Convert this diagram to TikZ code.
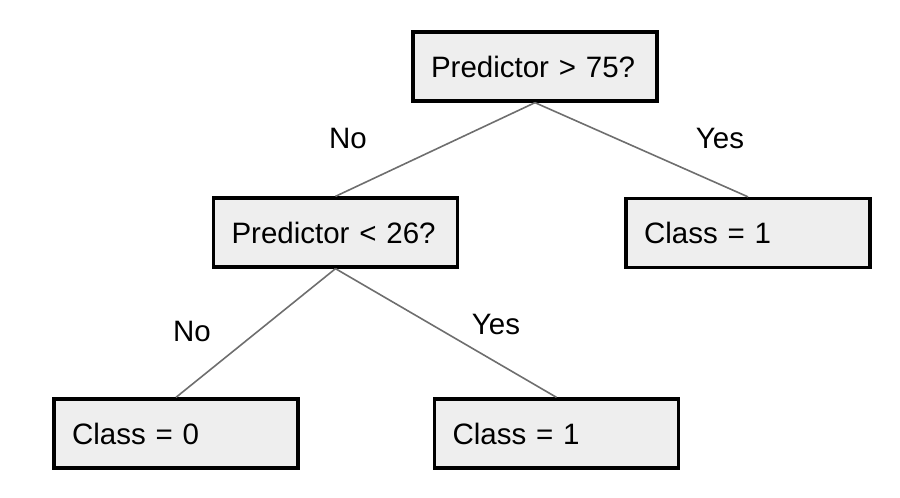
\documentclass[tikz,border=0pt]{standalone}
\usepackage{fontspec}
\setmainfont{Liberation Sans}
\definecolor{boxfill}{RGB}{238,238,238}
\definecolor{edgegray}{RGB}{110,110,110}
\tikzset{
  treebox/.style={draw=black, line width=3.3pt, fill=boxfill, rectangle,
    minimum width=244pt, minimum height=69pt, text width=208pt, align=left,
    inner xsep=18pt, inner ysep=0pt, font=\fontsize{29.5}{34}\selectfont},
  edge/.style={draw=edgegray, line width=1.6pt},
  lbl/.style={font=\fontsize{29.5}{34}\selectfont, inner sep=0pt}
}
\begin{document}
\begin{tikzpicture}[x=1pt,y=-1pt]
\useasboundingbox (0,0) rectangle (900,498);
\node[treebox] (q1) at (535,66.5) {Predictor > 75?};
\node[treebox] (q2) at (335.5,232.5) {Predictor < 26?};
\node[treebox] (cr) at (748,233) {Class = 1};
\node[treebox] (c0) at (176,433.5) {Class = 0};
\node[treebox] (cb) at (556.5,433.5) {Class = 1};
\draw[edge] (q1.south) -- (q2.north);
\draw[edge] (q1.south) -- (cr.north);
\draw[edge] (q2.south) -- (c0.north);
\draw[edge] (q2.south) -- (cb.north);
\node[lbl] (n1) at (348,138) {No};
\node[lbl] (y1) at (720,138) {Yes};
\node[lbl] (n2) at (192,331) {No};
\node[lbl] (y2) at (496,324) {Yes};
\end{tikzpicture}
\end{document}
